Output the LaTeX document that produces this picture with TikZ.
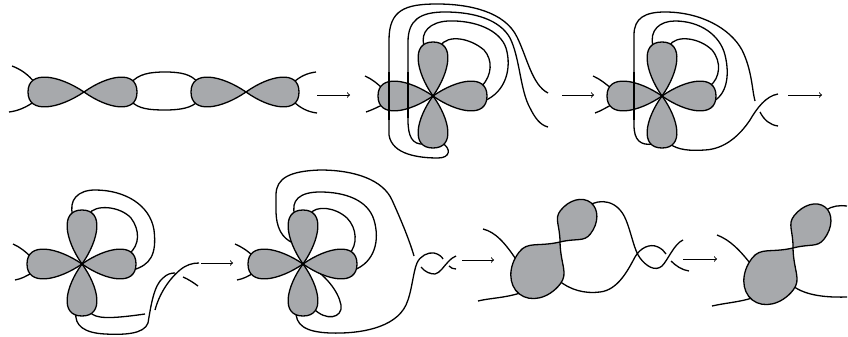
\documentclass[tikz,border=0pt]{standalone}
\usepackage{tikz}
\definecolor{CG}{HTML}{A7A9AC}
\newcommand{\petal}[4]{%
\begin{scope}[shift={#1},rotate=#2]
\filldraw[lobe] (0,0) .. controls (0.45*#3,1.1*#4) and (#3,1.45*#4) .. (#3,0)
 .. controls (#3,-1.45*#4) and (0.45*#3,-1.1*#4) .. (0,0) -- cycle;
\end{scope}}
\newcommand{\blob}[4]{%
\begin{scope}[shift={#1},rotate=#2]
\filldraw[lobe] (0,0) .. controls (0.27*#3,0.56*#4) and (0.29*#3,#4) .. (0.5*#3,#4)
 .. controls (0.78*#3,#4) and (#3,0.55*#4) .. (#3,0)
 .. controls (#3,-0.55*#4) and (0.78*#3,-#4) .. (0.5*#3,-#4)
 .. controls (0.29*#3,-#4) and (0.27*#3,-0.56*#4) .. (0,0) -- cycle;
\end{scope}}
\newcommand{\flower}[1]{%
\petal{#1}{180}{55}{15.5}\petal{#1}{0}{54}{15.5}%
\petal{#1}{90}{54}{15.5}\petal{#1}{270}{52}{15.5}%
\fill #1 circle (1.4pt);}

\begin{document}
\begin{tikzpicture}[x=1pt,y=-1pt,
 strand/.style={line width=1.3pt},
 lobe/.style={fill=CG, draw=black, line width=1.3pt, line join=round},
 go/.style={->, line width=1pt}]
\useasboundingbox (0,0) rectangle (848,337);

\draw[strand] (12,66) .. controls (20,69) and (28,74) .. (35,83);
\draw[strand] (9,112) .. controls (18,111) and (27,107) .. (35,101);
\draw[strand] (131,83) .. controls (138,74) and (150,72) .. (165,72) .. controls (180,72) and (192,74) .. (198,83);
\draw[strand] (131,101) .. controls (138,109) and (150,110) .. (165,110) .. controls (180,110) and (192,108) .. (198,101);
\draw[strand] (293,83) .. controls (300,76) and (308,73) .. (316,72);
\draw[strand] (293,101) .. controls (300,108) and (308,112) .. (317,113);
\petal{(84,92)}{180}{56}{15.5}
\petal{(84,92)}{0}{53}{15.5}
\petal{(246,92)}{180}{55}{15.5}
\petal{(246,92)}{0}{53}{15.5}
\draw[go] (317,95) -- (350,95);

\draw[strand] (365,76) .. controls (372,79) and (378,84) .. (383,89);
\draw[strand] (366,112) .. controls (372,110) and (378,107) .. (384,104);
\draw[strand] (440,46) .. controls (448,34) and (470,38) .. (484,50) .. controls (493,60) and (492,75) .. (482,86);
\draw[strand] (424,46) .. controls (420,32) and (430,22) .. (448,21) .. controls (475,20) and (500,30) .. (506,48) .. controls (512,68) and (506,92) .. (484,101);
\draw[strand] (424,144) .. controls (412,145) and (408,136) .. (408,120) -- (408,42) .. controls (408,20) and (420,12) .. (445,12) .. controls (475,12) and (500,20) .. (510,38) .. controls (520,58) and (520,90) .. (530,108) .. controls (535,118) and (540,125) .. (548,127);
\draw[strand] (442,143) .. controls (451,148) and (451,158) .. (438,158) .. controls (420,158) and (392,155) .. (389,135) -- (389,40) .. controls (389,10) and (405,4) .. (437,4) .. controls (470,4) and (505,12) .. (517,37) .. controls (527,57) and (532,85) .. (548,93);
\flower{(433,96)}
\draw[strand] (389,72) -- (389,120);
\draw[strand] (408,72) -- (408,118);
\draw[go] (562,95) -- (594,95);

\draw[strand] (593,76) .. controls (600,79) and (606,84) .. (612,89);
\draw[strand] (595,113) .. controls (601,111) and (607,107) .. (613,104);
\draw[strand] (669,46) .. controls (676,34) and (700,38) .. (712,50) .. controls (722,62) and (720,78) .. (710,86);
\draw[strand] (653,46) .. controls (649,30) and (660,21) .. (675,21) .. controls (700,21) and (720,35) .. (725,55) .. controls (730,75) and (727,95) .. (712,102);
\draw[strand] (654,144) .. controls (640,146) and (634,140) .. (634,125) -- (634,35) .. controls (634,18) and (645,12) .. (665,12) .. controls (700,12) and (730,28) .. (742,50) .. controls (752,70) and (752,90) .. (755,101);
\draw[strand] (760,112) .. controls (764,120) and (770,125) .. (778,126);
\draw[strand] (670,144) .. controls (678,150) and (690,151) .. (705,150) .. controls (725,149) and (740,135) .. (750,120) .. controls (757,108) and (766,96) .. (778,94);
\flower{(662,96)}
\draw[strand] (634,72) -- (634,120);
\draw[go] (788,95) -- (822,95);

\draw[strand] (13,244) .. controls (20,247) and (26,252) .. (32,258);
\draw[strand] (15,280) .. controls (21,279) and (27,276) .. (33,272);
\draw[strand] (89,214) .. controls (95,204) and (120,206) .. (131,218) .. controls (140,230) and (140,245) .. (129,254);
\draw[strand] (73,216) .. controls (68,200) and (78,190) .. (95,190) .. controls (125,190) and (150,205) .. (154,230) .. controls (157,255) and (150,265) .. (133,270);
\draw[strand] (90,312) .. controls (95,319) and (110,319) .. (145,314);
\draw[strand] (155,310) .. controls (159,295) and (168,280) .. (180,270) .. controls (186,265) and (192,263) .. (199,263);
\draw[strand] (76,312) .. controls (74,326) and (85,333) .. (105,334) .. controls (125,335) and (144,334) .. (148,323) .. controls (151,305) and (154,285) .. (163,278) .. controls (167,274) and (171,273) .. (175,273);
\draw[strand] (183,277) .. controls (188,279) and (194,283) .. (198,286);
\flower{(82,264)}
\draw[go] (201,263) -- (233,263);

\draw[strand] (235,244) .. controls (242,247) and (248,251) .. (254,257);
\draw[strand] (237,280) .. controls (243,279) and (249,276) .. (255,272);
\draw[strand] (310,214) .. controls (316,205) and (335,207) .. (347,218) .. controls (357,228) and (358,245) .. (349,254);
\draw[strand] (295,216) .. controls (290,200) and (300,192) .. (320,192) .. controls (345,192) and (368,200) .. (374,220) .. controls (380,240) and (375,262) .. (354,270);
\draw[strand] (313,268) .. controls (325,276) and (338,290) .. (341,305) .. controls (343,318) and (326,322) .. (313,308);
\draw[strand] (293,243) .. controls (282,238) and (276,228) .. (276,210) -- (276,195) .. controls (276,178) and (290,171) .. (320,170) .. controls (355,170) and (383,180) .. (392,200) .. controls (402,222) and (410,242) .. (414,256);
\draw[strand] (421,267) .. controls (425,272) and (430,274) .. (435,274) .. controls (440,273) and (444,266) .. (448,262) .. controls (451,259) and (453,257) .. (456,256);
\draw[strand] (296,310) .. controls (295,325) and (305,332) .. (330,333) .. controls (360,334) and (395,328) .. (406,305) .. controls (412,292) and (413,272) .. (417,263) .. controls (420,256) and (428,252) .. (434,253) .. controls (439,254) and (442,257) .. (443,259);
\draw[strand] (449,266) .. controls (451,268) and (453,269) .. (456,269);
\flower{(303,264)}
\draw[go] (462,260) -- (494,260);

\draw[strand] (483,229) .. controls (495,232) and (505,242) .. (519,264);
\draw[strand] (478,301) .. controls (490,298) and (505,298) .. (520,293);
\draw[strand] (588,206) .. controls (600,198) and (618,200) .. (626,220) .. controls (632,235) and (634,250) .. (640,258) .. controls (646,266) and (655,272) .. (662,266) .. controls (668,260) and (674,244) .. (683,240);
\draw[strand] (558,280) .. controls (570,290) and (585,294) .. (600,292) .. controls (618,290) and (628,270) .. (635,257) .. controls (640,248) and (650,243) .. (658,247) .. controls (662,249) and (664,251) .. (666,254);
\draw[strand] (671,261) .. controls (676,266) and (682,270) .. (689,271);
\blob{(560,242)}{232}{66}{26}
\blob{(560,242)}{52}{50}{19}
\draw[go] (683,259) -- (717,259);

\draw[strand] (717,235) .. controls (730,240) and (740,250) .. (753,267);
\draw[strand] (712,306) .. controls (725,303) and (740,302) .. (752,298);
\draw[strand] (826,210) .. controls (832,206) and (840,205) .. (847,206);
\draw[strand] (790,284) .. controls (800,292) and (815,298) .. (847,297);
\blob{(793,248)}{232}{66}{26}
\blob{(793,248)}{52}{52}{19}
\end{tikzpicture}
\end{document}
